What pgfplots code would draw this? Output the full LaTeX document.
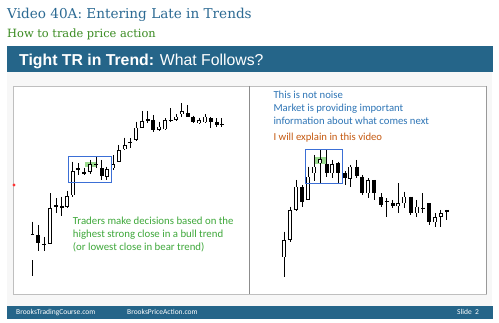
\documentclass[border=0pt]{standalone}
\usepackage{fontspec}
\setmainfont{Liberation Sans}
\newfontfamily\serifT{DejaVu Serif}
\newfontfamily\calib{Carlito}
\usepackage{pgfplots}
\usepackage{pgfplotstable}
\pgfplotsset{compat=1.18}
\definecolor{titleblue}{HTML}{2C6A93}
\definecolor{bannerblue}{HTML}{256589}
\definecolor{subgreen}{HTML}{3A8B21}
\definecolor{txtgreen}{HTML}{3EA83A}
\definecolor{txtblue}{HTML}{2E75B6}
\definecolor{txtorange}{HTML}{C55A11}
\definecolor{boxblue}{HTML}{3B6FD6}
\definecolor{hlgreen}{HTML}{9BDB8F}

\pgfplotstableread{
x hi lo top bot
32.5 221.7 276 234.5 260.5
50.0 193.3 244.3 208 244
67.3 191 208 196 207
72.7 161.7 196.7 171 195.5
90.0 160 174.3 164 171.7
106.7 166.7 180 169 176.7
113.3 155 170 164.3 168.3
118.7 145 162.3 150 161.7
124.7 137.7 150 145 149.3
136.0 121.7 141 127.7 140
142.0 111 127.7 121 127.7
159.0 121.7 131 126.7 130
165.0 118.3 130 120 129.3
176.0 114.3 121 116.7 120
181.7 103.3 116.7 111 114.3
199.0 117.7 124 120 123.3
205.0 114.3 123.3 116.7 122.3
}\leftH

\pgfplotstableread{
x hi lo top bot
38.3 225 251.5 235 243.3
44.0 237 251 243.6 244.8
56.0 198.5 213 205.5 206.7
61.7 197 216 205.8 207.6
78.3 163.3 175 168.3 170
84.0 168 175 172 174
96.0 157 168.3 164.5 165.5
101.7 160 180 168.3 175.7
130.0 138.3 147.7 141.7 142.9
147.7 111 123.3 119.4 120.6
153.3 115 131.7 120 130
170.7 108.3 121.7 120 121.2
187.7 105 117.3 113.3 116.7
193.3 115.7 123.3 116.7 122.3
210.7 117.3 127.7 118.3 122.3
216.7 118.3 126.7 122.3 125
221.7 118.3 126.7 124.2 125.2
}\leftB

\pgfplotstableread{
x hi lo top bot
284.0 231.7 276.7 240 257.3
290.0 206.7 241.7 210 240
296.0 180 211 186.7 210
308.3 166.7 200 176.7 200
314.3 155 181 166.7 173.3
320.0 150 183 159 163.3
332.3 160 177.7 164 173.3
350.0 165 186.7 166.7 179
368.3 178.3 198.3 180 193.3
398.3 183.3 213.3 203.3 206.3
404.3 191.7 208 196.7 203.3
416.7 200 216.7 206.7 213.3
435.0 213.3 226.7 217.3 222.3
440.7 210 226.7 213.3 216.7
}\rightH

\pgfplotstableread{
x hi lo top bot
302.3 185 206.7 186.7 202.3
326.7 150 176.7 164 173.3
338.3 161.7 184.3 163.3 173.3
345.0 171 185 173.3 178.5
356.7 160 178.3 166.7 175.7
362.3 175 195 176.7 193.3
374.3 180 200 180 193.3
381.0 193.3 206.7 196.7 205
386.7 198.3 216.7 201.1 202.3
392.7 200 208.3 203.3 205.7
410.7 196.7 215 196.7 213.3
422.7 193.3 213.3 207.7 208.9
429.0 203.3 225 203.3 222
446.7 210 220 210 212.3
}\rightB

\pgfplotsset{
  wick/.style={draw=none, mark=none, forget plot,
    error bars/.cd, y dir=plus, y explicit, error mark=none,
    error bar style={draw=black, line width=0.7pt}},
  body/.style={draw=none, mark=none, forget plot,
    error bars/.cd, y dir=plus, y explicit, error mark=none,
    error bar style={draw=#1, line width=3.8pt, line cap=butt}},
  inner/.style={draw=none, mark=none, forget plot,
    error bars/.cd, y dir=plus, y explicit, error mark=none,
    error bar style={draw=white, line width=2.3pt, line cap=butt}},
}

\begin{document}
\begin{tikzpicture}
% ---------- background & decorations (pixel coords) ----------
\begin{scope}[x=1pt, y=-1pt, yshift=323pt]
  \fill[white] (0,0) rectangle (499,323);
  \fill[black!3] (7,72) rectangle (492,306);
  % title
  \node[anchor=base west, inner sep=0pt, text=titleblue] at (7,18.5)
    {\serifT\fontsize{13.6}{15}\selectfont Video 40A: Entering Late in Trends};
  \node[anchor=base west, inner sep=0pt, text=subgreen] at (7,37.3)
    {\serifT\fontsize{11.4}{13}\selectfont How to trade price action};
  % banner
  \fill[bannerblue] (7,46) rectangle (492.5,72.5);
  \node[anchor=base west, inner sep=0pt, text=white] at (19,65.5)
    {\fontsize{15.8}{18}\selectfont\bfseries Tight TR in Trend: \mdseries What Follows?};
  % panels
  \fill[white] (13,86) rectangle (486,294);
  \draw[black!25, line width=0.6pt] (13,86) rectangle (486,294);
  \draw[black!40, line width=0.8pt] (486.3,86) -- (486.3,294.3);
  \draw[black!45, line width=0.6pt] (249,86) -- (249,294);
  % green highlights
  \fill[hlgreen] (85,162.3) rectangle (96.7,166.7);
  \fill[hlgreen] (314.3,156.7) rectangle (326.7,164);
  % red dot
  \fill[red!80] (14,185) circle (1.6);
  % footer
  \fill[bannerblue] (7,306) rectangle (492.5,319);
  \node[anchor=base west, inner sep=0pt, text=white] at (16,315)
    {\calib\fontsize{7.5}{8}\selectfont BrooksTradingCourse.com};
  \node[anchor=base west, inner sep=0pt, text=white] at (127,315)
    {\calib\fontsize{7.5}{8}\selectfont BrooksPriceAction.com};
  \node[anchor=base west, inner sep=0pt, text=white] at (457,315)
    {\calib\fontsize{7.5}{8}\selectfont Slide\ \ 2};
\end{scope}

% ---------- candles ----------
\begin{axis}[
  at={(0pt,0pt)}, anchor=south west,
  scale only axis, width=499pt, height=323pt,
  xmin=0, xmax=499, ymin=0, ymax=323, y dir=reverse,
  hide axis, clip=false,
]
\addplot[wick] table[x=x, y=hi, y error expr=\thisrow{lo}-\thisrow{hi}] {\leftH};
\addplot[wick] table[x=x, y=hi, y error expr=\thisrow{lo}-\thisrow{hi}] {\leftB};
\addplot[wick] table[x=x, y=hi, y error expr=\thisrow{lo}-\thisrow{hi}] {\rightH};
\addplot[wick] table[x=x, y=hi, y error expr=\thisrow{lo}-\thisrow{hi}] {\rightB};
\addplot[body=black] table[x=x, y=top, y error expr=\thisrow{bot}-\thisrow{top}] {\leftH};
\addplot[body=black] table[x=x, y=top, y error expr=\thisrow{bot}-\thisrow{top}] {\leftB};
\addplot[body=black] table[x=x, y=top, y error expr=\thisrow{bot}-\thisrow{top}] {\rightH};
\addplot[body=black] table[x=x, y=top, y error expr=\thisrow{bot}-\thisrow{top}] {\rightB};
\addplot[inner] table[x=x, y expr=\thisrow{top}+0.75, y error expr=\thisrow{bot}-\thisrow{top}-1.5] {\leftH};
\addplot[inner] table[x=x, y expr=\thisrow{top}+0.75, y error expr=\thisrow{bot}-\thisrow{top}-1.5] {\rightH};
\end{axis}

% ---------- overlays ----------
\begin{scope}[x=1pt, y=-1pt, yshift=323pt]
  \draw[boxblue, line width=0.9pt] (68.3,156.7) rectangle (111.7,182.3);
  \draw[boxblue, line width=0.9pt] (305.7,149.3) rectangle (342.7,183.3);
  \begin{scope}[every node/.style={anchor=base west, inner sep=0pt}]
  \node[text=txtgreen] at (72.7,225)
    {\calib\fontsize{10.8}{12}\selectfont Traders make decisions based on the};
  \node[text=txtgreen] at (72.7,237.7)
    {\calib\fontsize{10.8}{12}\selectfont highest strong close in a bull trend};
  \node[text=txtgreen] at (72.7,250.5)
    {\calib\fontsize{10.8}{12}\selectfont (or lowest close in bear trend)};
  \node[text=txtblue] at (273.3,99)
    {\calib\fontsize{10.7}{12}\selectfont This is not noise};
  \node[text=txtblue] at (273.3,111.7)
    {\calib\fontsize{10.7}{12}\selectfont Market is providing important};
  \node[text=txtblue] at (273.3,124.2)
    {\calib\fontsize{10.7}{12}\selectfont information about what comes next};
  \node[text=txtorange] at (273.3,141)
    {\calib\fontsize{10.7}{12}\selectfont I will explain in this video};
  \end{scope}
\end{scope}
\end{tikzpicture}
\end{document}
